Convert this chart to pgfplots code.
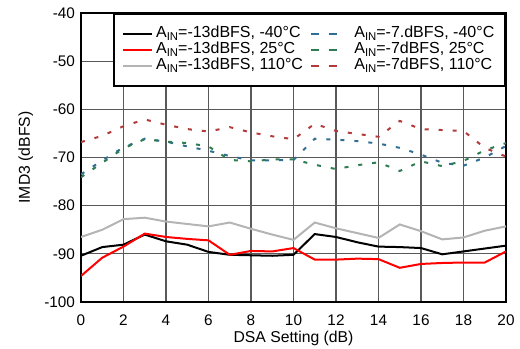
\documentclass[border=0pt]{standalone}
\usepackage{fontspec}
\setmainfont{Liberation Sans}
\usepackage{pgfplots}
\pgfplotsset{compat=1.18}
\definecolor{dblue}{HTML}{2F6E96}
\definecolor{dgreen}{HTML}{2E7D52}
\definecolor{dred}{HTML}{B23A3A}
\definecolor{lgray}{HTML}{B4B4B4}
\newcommand{\AIN}{A\raisebox{-0.3ex}{\fontsize{8.5}{9}\selectfont IN}}
\begin{document}
\begin{tikzpicture}
\path[use as bounding box] (0,0) rectangle (390pt,261.75pt);
\begin{axis}[
  at={(60.75pt,35.25pt)}, anchor=south west,
  scale only axis, width=318.75pt, height=216.75pt,
  xmin=0, xmax=20, ymin=-100, ymax=-40,
  xtick={0,2,...,20}, ytick={-100,-90,...,-40},
  tick style={draw=none},
  grid=major,
  major grid style={draw=black!65, line width=0.8pt},
  axis line style={line width=2pt},
  /pgf/number format/assume math mode=true,
  ticklabel style={font=\fontsize{11.5}{13}\selectfont},
  xticklabel style={yshift=-6pt},
  yticklabel style={xshift=-1pt},
  label style={font=\fontsize{11.8}{13}\selectfont},
  xlabel={DSA Setting (dB)},
  ylabel={IMD3 (dBFS)},
  xlabel style={yshift=2.5pt},
  ylabel style={yshift=1.5pt},
  legend columns=2,
  legend cell align=left,
  legend style={at={(1,1)}, anchor=north east, draw=black, line width=1.5pt,
    font=\fontsize{12}{13}\selectfont, inner xsep=6pt, inner ysep=9pt,
    nodes={inner ysep=0pt, inner xsep=2pt, text height=8.6pt, text depth=3.4pt},
    /tikz/every even column/.append style={column sep=3pt}},
  sol/.style={line width=1.5pt, legend image code/.code={\draw[##1, line width=1.5pt] (0pt,0pt) -- (22pt,0pt);}},
  dsh/.style={line width=1.5pt, dash pattern=on 3pt off 7.5pt,
    legend image code/.code={\draw[##1, line width=1.5pt, dash pattern=on 6pt off 7.5pt] (0pt,0pt) -- (19.5pt,0pt); \path (30pt,0pt);}},
]
\addplot[black, sol] coordinates {
(0,-90.4)(1,-88.6)(2,-88.1)(3,-86.0)(4,-87.4)(5,-88.1)(6,-89.6)(7,-90.2)(8,-90.3)(9,-90.4)(10,-90.2)
(11,-85.9)(12,-86.5)(13,-87.6)(14,-88.5)(15,-88.6)(16,-88.8)(17,-90.1)(18,-89.5)(19,-88.9)(20,-88.3)};
\addlegendentry{\AIN=-13dBFS, -40°C}
\addplot[dblue, dsh] coordinates {
(0,-73.5)(1,-70.6)(2,-67.9)(3,-66.1)(4,-66.7)(5,-67.7)(6,-68.6)(7,-69.7)(8,-70.6)(9,-70.6)(10,-70.5)
(11,-66.1)(12,-66.3)(13,-66.6)(14,-67.1)(15,-68.0)(16,-69.4)(17,-71.1)(18,-71.7)(19,-70.0)(20,-67.6)};
\addlegendentry{\AIN=-7.dBFS, -40°C}
\addplot[red, sol] coordinates {
(0,-94.6)(1,-90.8)(2,-88.5)(3,-85.8)(4,-86.5)(5,-86.9)(6,-87.2)(7,-90.2)(8,-89.4)(9,-89.5)(10,-88.8)
(11,-91.2)(12,-91.2)(13,-91.0)(14,-91.1)(15,-92.9)(16,-92.1)(17,-91.9)(18,-91.8)(19,-91.8)(20,-89.5)};
\addlegendentry{\AIN=-13dBFS, 25°C}
\addplot[dgreen, dsh] coordinates {
(0,-74.1)(1,-71.1)(2,-68.1)(3,-66.2)(4,-66.7)(5,-67.0)(6,-67.7)(7,-70.5)(8,-70.8)(9,-70.4)(10,-70.4)
(11,-71.5)(12,-72.4)(13,-71.6)(14,-71.0)(15,-72.8)(16,-70.8)(17,-71.8)(18,-70.7)(19,-68.5)(20,-67.0)};
\addlegendentry{\AIN=-7dBFS, 25°C}
\addplot[lgray, sol] coordinates {
(0,-86.5)(1,-85.0)(2,-82.8)(3,-82.5)(4,-83.3)(5,-83.8)(6,-84.3)(7,-83.5)(8,-84.8)(9,-86.0)(10,-87.1)
(11,-83.5)(12,-84.7)(13,-85.7)(14,-86.7)(15,-83.9)(16,-85.3)(17,-87.0)(18,-86.6)(19,-85.2)(20,-84.3)};
\addlegendentry{\AIN=-13dBFS, 110°C}
\addplot[dred, dsh] coordinates {
(0,-66.8)(1,-65.5)(2,-63.5)(3,-62.1)(4,-63.2)(5,-64.1)(6,-64.6)(7,-63.7)(8,-64.8)(9,-65.6)(10,-66.2)
(11,-63.0)(12,-64.5)(13,-65.1)(14,-65.7)(15,-62.4)(16,-64.1)(17,-64.3)(18,-64.5)(19,-68.0)(20,-69.8)};
\addlegendentry{\AIN=-7dBFS, 110°C}
\end{axis}
\end{tikzpicture}
\end{document}
